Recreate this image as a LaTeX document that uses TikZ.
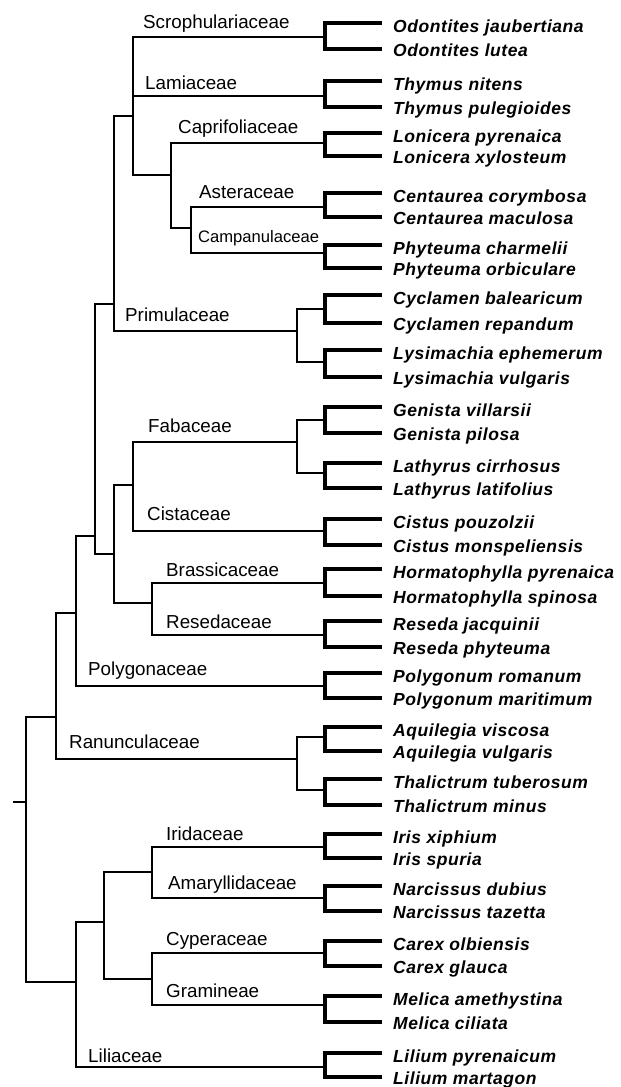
\documentclass[tikz,border=0pt]{standalone}
\usepackage{fontspec}
\setmainfont{Liberation Sans}
\newfontfamily\spfont[LetterSpace=3.2]{Liberation Sans}
\newcommand{\leafpair}[6]{%
  \coordinate (#1) at (325,#2);
  \draw[bracket] (382,#3) -- (325,#3) -- (325,#4) -- (382,#4);
  \node[species] (#1-a) at (393,{#3+9}) {#5};
  \node[species] (#1-b) at (393,{#4+7}) {#6};
}
\begin{document}
\begin{tikzpicture}[x=1pt,y=-1pt,
  edge/.style={line width=1.2pt, line join=miter},
  bracket/.style={line width=4.3pt, line join=miter, line cap=butt},
  species/.style={anchor=base west, inner sep=0pt, font=\spfont\fontsize{17.5}{18}\selectfont\bfseries\itshape},
  fam/.style={anchor=base west, inner sep=0pt, font=\fontsize{18.8}{19}\selectfont},
  famsmall/.style={anchor=base west, inner sep=0pt, font=\fontsize{16.6}{17}\selectfont}]
\useasboundingbox (0,0) rectangle (621,1087);
% leaves
\leafpair{odo}{37}{23}{49}{Odontites jaubertiana}{Odontites lutea}
\leafpair{thy}{96}{81}{107}{Thymus nitens}{Thymus pulegioides}
\leafpair{lon}{143}{133}{156}{Lonicera pyrenaica}{Lonicera xylosteum}
\leafpair{cen}{207}{193}{217}{Centaurea corymbosa}{Centaurea maculosa}
\leafpair{phy}{253}{245}{268}{Phyteuma charmelii}{Phyteuma orbiculare}
\leafpair{cyc}{309}{295}{323}{Cyclamen balearicum}{Cyclamen repandum}
\leafpair{lys}{362}{350}{377}{Lysimachia ephemerum}{Lysimachia vulgaris}
\leafpair{gen}{420}{407}{433}{Genista villarsii}{Genista pilosa}
\leafpair{lat}{473}{463}{488}{Lathyrus cirrhosus}{Lathyrus latifolius}
\leafpair{cis}{531}{519}{545}{Cistus pouzolzii}{Cistus monspeliensis}
\leafpair{hor}{583}{569}{596}{Hormatophylla pyrenaica}{Hormatophylla spinosa}
\leafpair{res}{635}{621}{647}{Reseda jacquinii}{Reseda phyteuma}
\leafpair{pol}{686}{673}{698}{Polygonum romanum}{Polygonum maritimum}
\leafpair{aqu}{737}{727}{751}{Aquilegia viscosa}{Aquilegia vulgaris}
\leafpair{tha}{790}{779}{805}{Thalictrum tuberosum}{Thalictrum minus}
\leafpair{iri}{847}{834}{858}{Iris xiphium}{Iris spuria}
\leafpair{nar}{898}{886}{911}{Narcissus dubius}{Narcissus tazetta}
\leafpair{car}{953}{941}{966}{Carex olbiensis}{Carex glauca}
\leafpair{mel}{1005}{996}{1022}{Melica amethystina}{Melica ciliata}
\leafpair{lil}{1067}{1053}{1077}{Lilium pyrenaicum}{Lilium martagon}
% internal nodes
\coordinate (stub) at (13,802);
\coordinate (root) at (26,802);
\coordinate (A) at (56,717);
\coordinate (B) at (76,613);
\coordinate (C) at (95,536);
\coordinate (D) at (114,304);
\coordinate (E) at (133,116);
\coordinate (F) at (171,175);
\coordinate (G) at (191,228);
\coordinate (P) at (297,331);
\coordinate (H) at (114,554);
\coordinate (I) at (133,485);
\coordinate (Fab) at (297,442);
\coordinate (J) at (152,603);
\coordinate (R) at (297,759);
\coordinate (K) at (76,982);
\coordinate (L) at (104,922);
\coordinate (M) at (152,872);
\coordinate (N) at (152,979);
% edges
\draw[edge] (stub) -- (root);
\draw[edge] (root) |- (A);
\draw[edge] (root) |- (K);
\draw[edge] (A) |- (B);
\draw[edge] (A) |- (R);
\draw[edge] (B) |- (C);
\draw[edge] (B) |- (pol);
\draw[edge] (C) |- (D);
\draw[edge] (C) |- (H);
\draw[edge] (D) |- (E);
\draw[edge] (D) |- (P);
\draw[edge] (E) |- (odo);
\draw[edge] (E) |- (thy);
\draw[edge] (E) |- (F);
\draw[edge] (F) |- (lon);
\draw[edge] (F) |- (G);
\draw[edge] (G) |- (cen);
\draw[edge] (G) |- (phy);
\draw[edge] (P) |- (cyc);
\draw[edge] (P) |- (lys);
\draw[edge] (H) |- (I);
\draw[edge] (H) |- (J);
\draw[edge] (I) |- (Fab);
\draw[edge] (I) |- (cis);
\draw[edge] (Fab) |- (gen);
\draw[edge] (Fab) |- (lat);
\draw[edge] (J) |- (hor);
\draw[edge] (J) |- (res);
\draw[edge] (R) |- (aqu);
\draw[edge] (R) |- (tha);
\draw[edge] (K) |- (L);
\draw[edge] (K) |- (lil);
\draw[edge] (L) |- (M);
\draw[edge] (L) |- (N);
\draw[edge] (M) |- (iri);
\draw[edge] (M) |- (nar);
\draw[edge] (N) |- (car);
\draw[edge] (N) |- (mel);
% family labels
\node[fam] (lScro) at (143,28) {Scrophulariaceae};
\node[fam] (lLami) at (145,89) {Lamiaceae};
\node[fam] (lCapr) at (178,133) {Caprifoliaceae};
\node[fam] (lAste) at (199,198) {Asteraceae};
\node[famsmall] (lCamp) at (198,242) {Campanulaceae};
\node[fam] (lPrim) at (125,321) {Primulaceae};
\node[fam] (lFaba) at (148,432) {Fabaceae};
\node[fam] (lCist) at (147,520) {Cistaceae};
\node[fam] (lBras) at (166,576) {Brassicaceae};
\node[fam] (lRese) at (166,628) {Resedaceae};
\node[fam] (lPoly) at (88,675) {Polygonaceae};
\node[fam] (lRanu) at (69,748) {Ranunculaceae};
\node[fam] (lIrid) at (166,840) {Iridaceae};
\node[fam] (lAmar) at (168,889) {Amaryllidaceae};
\node[fam] (lCype) at (166,945) {Cyperaceae};
\node[fam] (lGram) at (166,997) {Gramineae};
\node[fam] (lLili) at (88,1062) {Liliaceae};
\end{tikzpicture}
\end{document}
